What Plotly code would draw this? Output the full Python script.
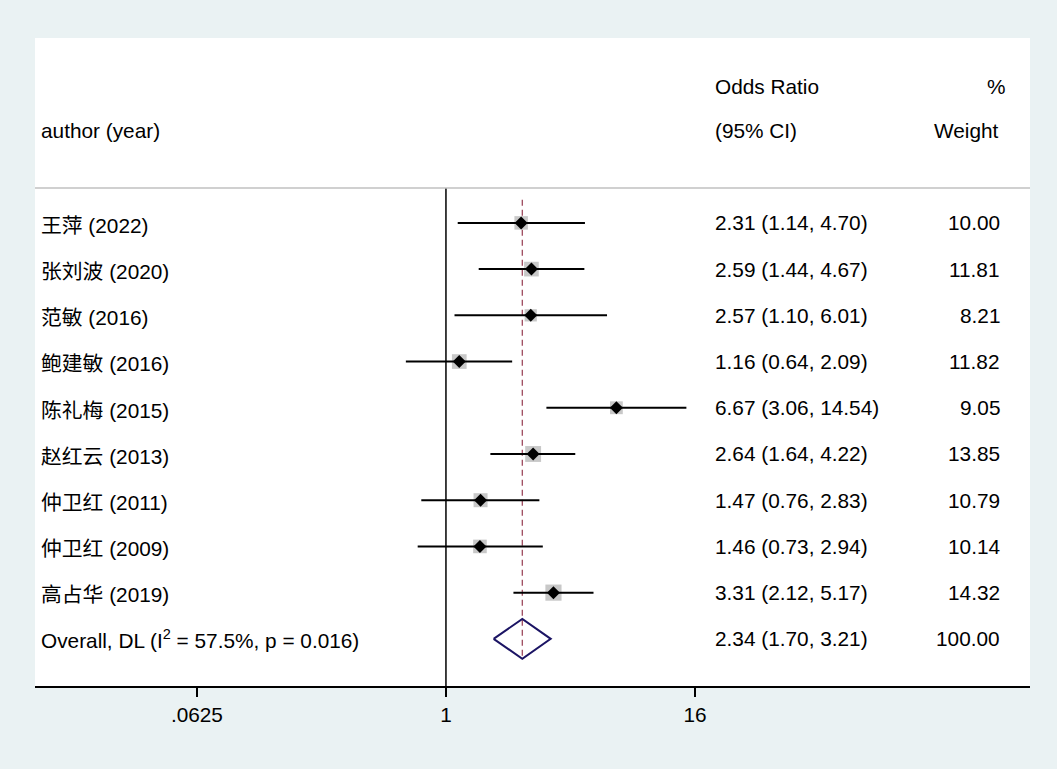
import plotly.graph_objects as go

studies = ["王萍 (2022)", "张刘波 (2020)", "范敏 (2016)", "鲍建敏 (2016)", "陈礼梅 (2015)",
           "赵红云 (2013)", "仲卫红 (2011)", "仲卫红 (2009)", "高占华 (2019)"]
odds = [2.31, 2.59, 2.57, 1.16, 6.67, 2.64, 1.47, 1.46, 3.31]
ci_low = [1.14, 1.44, 1.10, 0.64, 3.06, 1.64, 0.76, 0.73, 2.12]
ci_high = [4.70, 4.67, 6.01, 2.09, 14.54, 4.22, 2.83, 2.94, 5.17]
weights = [10.00, 11.81, 8.21, 11.82, 9.05, 13.85, 10.79, 10.14, 14.32]

overall_label = "Overall, DL (I<sup>2</sup> = 57.5%, p = 0.016)"
overall_or = 2.34
overall_low = 1.70
overall_high = 3.21
overall_weight = 100.00

tick_vals = [0.0625, 1, 16]
tick_text = [".0625", "1", "16"]

FONT = "Liberation Sans, Arial, Noto Sans CJK SC, sans-serif"
FS = 20.8

rows = list(range(1, len(studies) + 1))
overall_row = len(studies) + 1

fig = go.Figure()

# CI lines
cx, cy = [], []
for lo, hi, r in zip(ci_low, ci_high, rows):
    cx += [lo, hi, None]
    cy += [r, r, None]

# null line
fig.add_trace(go.Scatter(x=[1, 1], y=[0.243, 11.05], mode="lines",
                         line=dict(color="black", width=1.5), hoverinfo="skip"))
# overall dashed line
fig.add_trace(go.Scatter(x=[overall_or, overall_or], y=[0.5, overall_row + 0.45], mode="lines",
                         line=dict(color="#9E4A5E", width=1.3, dash="6px,4px"), hoverinfo="skip"))

# weight squares
fig.add_trace(go.Scatter(x=odds, y=rows, mode="markers",
                         marker=dict(symbol="square", color="#B0B0B0",
                                     size=[13.5 * (w / 10) ** 0.5 for w in weights],
                                     line=dict(width=0)), hoverinfo="skip"))
fig.add_trace(go.Scatter(x=cx, y=cy, mode="lines",
                         line=dict(color="black", width=2), hoverinfo="skip"))
fig.add_trace(go.Scatter(x=odds, y=rows, mode="markers",
                         marker=dict(symbol="diamond", color="black", size=10,
                                     line=dict(width=0)), hoverinfo="skip"))

# overall diamond
h = 0.43
fig.add_trace(go.Scatter(
    x=[overall_low, overall_or, overall_high, overall_or, overall_low],
    y=[overall_row, overall_row - h, overall_row, overall_row + h, overall_row],
    mode="lines", line=dict(color="#1B1464", width=2), hoverinfo="skip"))

def px(xpix):
    return (xpix - 35) / 995.0

ann = []
def add(text, xpix, y, anchor="left"):
    ann.append(dict(text=text, x=px(xpix), y=y, xref="paper", yref="y",
                    xanchor=anchor, yanchor="middle", showarrow=False,
                    font=dict(family=FONT, size=FS, color="black")))

add("Odds Ratio", 713, -1.96)
add("%", 1008, -1.96, "right")
add("author (year)", 39, -0.99)
add("(95% CI)", 713, -0.99)
add("Weight", 1001, -0.99, "right")

for s, o, lo, hi, w, r in zip(studies, odds, ci_low, ci_high, weights, rows):
    add(s, 39, r + 0.05)
    add(f"{o:.2f} ({lo:.2f}, {hi:.2f})", 713, r)
    add(f"{w:.2f}", 1002, r, "right")

add(overall_label, 39, overall_row)
add(f"{overall_or:.2f} ({overall_low:.2f}, {overall_high:.2f})", 713, overall_row)
add(f"{overall_weight:.2f}", 1002, overall_row, "right")

shapes = [dict(type="line", xref="paper", yref="y", x0=0, x1=1, y0=0.243, y1=0.243,
               line=dict(color="#C0C0C0", width=1.5))]

fig.update_layout(
    width=1057, height=769,
    margin=dict(l=35, r=27, t=38, b=83),
    paper_bgcolor="#EAF2F3", plot_bgcolor="white",
    showlegend=False,
    annotations=ann, shapes=shapes,
    font=dict(family=FONT, size=FS, color="black"),
    xaxis=dict(type="log", range=[-1.987, 2.824], tickvals=tick_vals, ticktext=tick_text,
               showgrid=False, zeroline=False, showline=True, linecolor="black", linewidth=1.5,
               ticks="outside", ticklen=9, tickwidth=1.5, tickcolor="black",
               tickfont=dict(family=FONT, size=FS, color="black")),
    yaxis=dict(range=[11.02, -3.0], showgrid=False, zeroline=False, showticklabels=False,
               showline=False, ticks=""),
)

fig.write_html("out.html", config={"displayModeBar": False},
               post_script="document.body.style.margin='0';document.body.style.background='#EAF2F3';")
